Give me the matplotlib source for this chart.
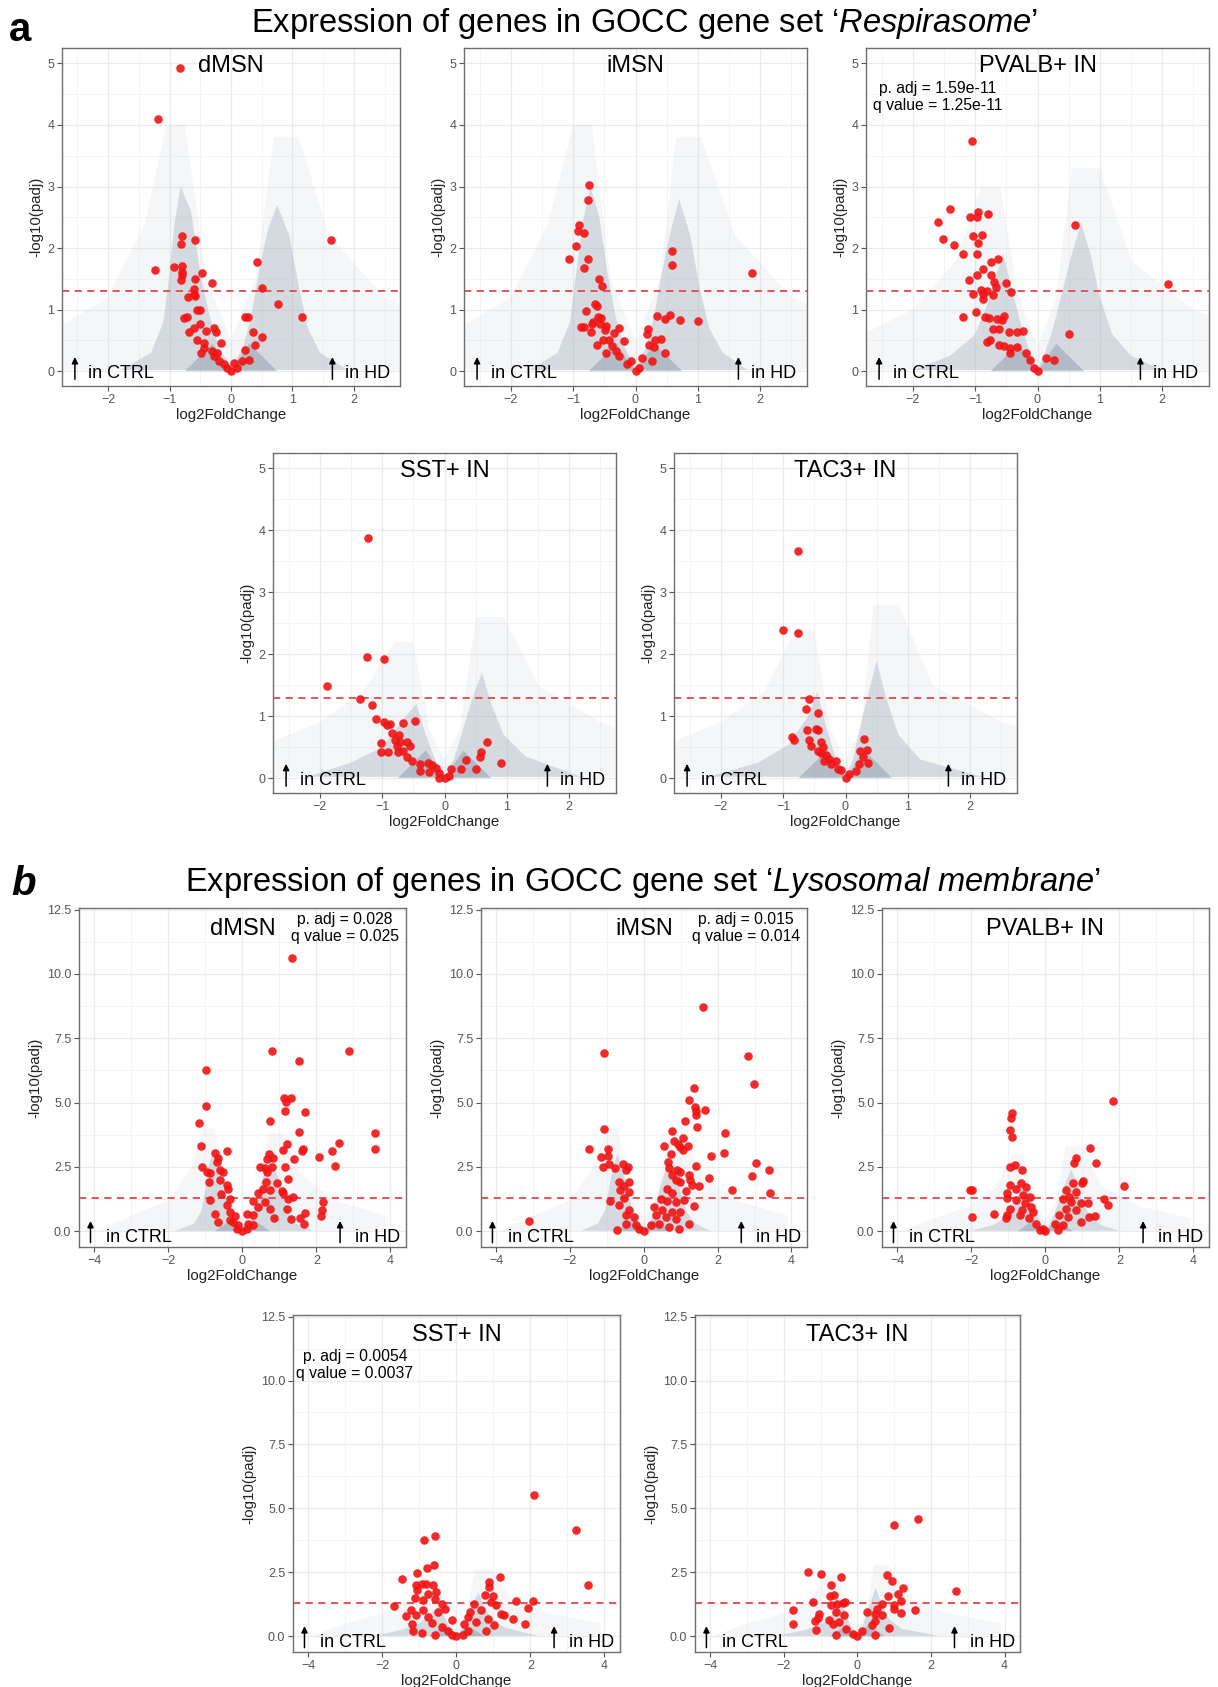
import matplotlib
matplotlib.use("Agg")
import matplotlib.pyplot as plt
from matplotlib.ticker import MultipleLocator

plt.rcParams['font.family'] = ['Liberation Sans', 'DejaVu Sans']
plt.rcParams['mathtext.fontset'] = 'custom'
plt.rcParams['mathtext.rm'] = 'Liberation Sans'
plt.rcParams['mathtext.it'] = 'Liberation Sans:italic'

# ---- red points: genes of the gene set, (log2FoldChange, -log10(padj)) ----
resp_dmsn = [(-0.83, 4.92), (-1.19, 4.09), (1.63, 2.13), (-1.23, 1.65), (-0.80, 2.20), (-0.81, 2.06),
             (-0.58, 2.13), (-0.92, 1.70), (-0.79, 1.71), (-0.80, 1.61), (-0.79, 1.56), (-0.82, 1.48),
             (-0.47, 1.59), (-0.58, 1.50), (-0.31, 1.44), (0.43, 1.78), (0.51, 1.35), (0.76, 1.09),
             (1.16, 0.88), (-0.61, 1.33), (-0.60, 1.25), (-0.70, 1.21), (-0.59, 1.22), (-0.55, 1.00),
             (-0.51, 1.00), (-0.76, 0.87), (-0.72, 0.88), (0.23, 0.88), (0.28, 0.88), (-0.68, 0.63),
             (-0.60, 0.70), (-0.50, 0.77), (-0.40, 0.65), (-0.28, 0.70), (-0.25, 0.63), (0.35, 0.64),
             (0.50, 0.55), (-0.56, 0.51), (-0.44, 0.46), (-0.16, 0.46), (-0.49, 0.29), (-0.44, 0.38),
             (-0.31, 0.33), (-0.28, 0.24), (-0.22, 0.30), (-0.20, 0.16), (0.39, 0.43), (0.23, 0.35),
             (0.18, 0.16), (0.29, 0.19), (0.05, 0.14), (0.0, 0.0), (-0.06, 0.05), (-0.12, 0.11), (0.10, 0.05)]
resp_imsn = [(-0.74, 3.02), (-0.76, 2.78), (-0.91, 2.37), (-0.92, 2.28), (-0.83, 2.24), (-0.96, 2.04),
             (-1.07, 1.83), (-0.76, 1.83), (-0.82, 1.68), (0.59, 1.96), (0.58, 1.73), (1.87, 1.60),
             (-0.58, 1.49), (-0.53, 1.39), (-0.65, 1.10), (-0.62, 1.06), (-0.80, 0.98), (0.34, 0.89),
             (0.56, 0.92), (0.47, 0.85), (0.72, 0.83), (1.00, 0.81), (-0.60, 0.88), (-0.55, 0.86),
             (-0.68, 0.80), (-0.70, 0.76), (-0.57, 0.77), (-0.88, 0.72), (-0.83, 0.72), (-0.47, 0.73),
             (-0.49, 0.67), (-0.27, 0.70), (-0.72, 0.63), (-0.35, 0.62), (0.20, 0.68), (0.19, 0.61),
             (-0.61, 0.43), (-0.52, 0.51), (-0.43, 0.50), (-0.19, 0.49), (-0.37, 0.41), (-0.31, 0.33),
             (-0.27, 0.24), (-0.48, 0.30), (0.32, 0.51), (0.41, 0.53), (0.21, 0.43), (0.29, 0.40),
             (0.48, 0.30), (0.11, 0.22), (0.27, 0.16), (-0.07, 0.16), (-0.13, 0.11), (0.0, 0.01), (0.05, 0.05)]
resp_pvalb = [(-1.05, 3.74), (-1.40, 2.64), (-1.59, 2.43), (-0.95, 2.59), (-1.09, 2.50), (-0.97, 2.50),
              (-0.79, 2.55), (0.60, 2.38), (-1.51, 2.14), (-1.03, 2.19), (-0.89, 2.21), (-0.95, 2.09),
              (-1.34, 2.05), (-1.19, 1.91), (-0.97, 1.91), (-0.63, 1.83), (-0.75, 1.77), (-0.87, 1.66),
              (-0.97, 1.56), (-0.75, 1.56), (-1.10, 1.48), (-0.69, 1.45), (-0.51, 1.44), (-0.66, 1.37),
              (-0.90, 1.32), (-0.81, 1.30), (-1.04, 1.26), (-0.87, 1.25), (-0.43, 1.28), (-0.72, 1.23),
              (-0.87, 1.17), (2.10, 1.41), (-1.19, 0.88), (-0.99, 0.96), (-0.84, 0.88), (-0.78, 0.87),
              (-0.65, 0.85), (-0.57, 0.84), (-0.53, 0.90), (-0.71, 0.69), (-0.61, 0.68), (-0.46, 0.63),
              (-0.33, 0.63), (-0.24, 0.65), (0.51, 0.60), (-0.81, 0.47), (-0.76, 0.50), (-0.61, 0.43),
              (-0.54, 0.41), (-0.44, 0.38), (-0.33, 0.40), (-0.44, 0.29), (-0.19, 0.29), (-0.12, 0.19),
              (0.14, 0.22), (0.26, 0.19), (0.0, 0.0), (-0.05, 0.05)]
resp_sst = [(-1.23, 3.88), (-1.24, 1.96), (-0.97, 1.93), (-1.88, 1.48), (-1.35, 1.27), (-1.16, 1.18),
            (-1.10, 0.96), (-0.97, 0.90), (-0.88, 0.88), (-0.92, 0.85), (-0.47, 0.93), (-0.66, 0.89),
            (-0.84, 0.73), (-0.73, 0.70), (-0.80, 0.62), (-0.71, 0.59), (-1.02, 0.56), (-0.60, 0.58),
            (-0.56, 0.52), (-0.76, 0.52), (-1.02, 0.42), (-0.90, 0.42), (-0.74, 0.42), (-0.66, 0.44),
            (-0.60, 0.34), (-0.52, 0.28), (-0.39, 0.23), (-0.26, 0.25), (-0.20, 0.21), (-0.14, 0.17),
            (-0.39, 0.12), (-0.25, 0.10), (-0.09, 0.08), (0.0, 0.0), (0.10, 0.14), (0.26, 0.15),
            (0.35, 0.30), (0.50, 0.14), (0.57, 0.34), (0.59, 0.42), (0.68, 0.59), (0.90, 0.24),
            (0.07, 0.04), (-0.09, 0.01)]
resp_tac3 = [(-0.76, 3.67), (-1.01, 2.40), (-0.76, 2.34), (-0.58, 1.27), (-0.63, 1.11), (-0.44, 1.05),
             (-0.62, 0.77), (-0.48, 0.79), (-0.44, 0.77), (-0.86, 0.66), (-0.82, 0.62), (-0.58, 0.61),
             (-0.40, 0.59), (-0.55, 0.52), (-0.36, 0.51), (-0.44, 0.44), (-0.39, 0.41), (-0.31, 0.37),
             (-0.26, 0.31), (-0.15, 0.27), (-0.34, 0.28), (-0.23, 0.23), (-0.07, 0.13), (-0.12, 0.15),
             (0.0, 0.0), (0.06, 0.06), (0.17, 0.12), (0.24, 0.44), (0.30, 0.63), (0.35, 0.45),
             (0.28, 0.34), (0.36, 0.25), (0.22, 0.23)]

lys_dmsn = [(1.33, 10.62), (0.81, 7.01), (2.87, 7.01), (1.53, 6.60), (-0.99, 6.27), (-0.99, 4.87),
            (1.12, 5.19), (1.32, 5.19), (1.18, 5.01), (1.14, 4.67), (1.70, 4.65), (-1.17, 4.21),
            (0.75, 4.28), (1.53, 3.87), (3.59, 3.83), (3.59, 3.19), (2.60, 3.44), (2.42, 3.12),
            (-1.12, 3.32), (-0.42, 3.13), (-0.74, 3.05), (1.20, 3.41), (1.09, 3.15), (1.64, 3.19),
            (1.60, 3.12), (2.06, 2.87), (2.51, 2.53), (1.40, 2.79), (-0.67, 2.83), (-0.69, 2.70),
            (0.73, 2.99), (0.66, 2.79), (0.84, 2.83), (-1.10, 2.51), (-0.96, 2.31), (-0.86, 2.25),
            (-0.59, 2.38), (-0.51, 2.31), (0.48, 2.51), (0.61, 2.44), (0.66, 2.31), (0.79, 2.51),
            (1.14, 2.51), (-0.89, 1.92), (-0.60, 1.99), (-0.42, 1.79), (0.63, 1.90), (0.93, 1.88),
            (1.24, 2.05), (-0.38, 1.64), (0.57, 1.66), (0.75, 1.60), (1.08, 1.56), (1.11, 1.47),
            (-0.58, 1.43), (0.43, 1.47), (1.38, 1.34), (-0.87, 1.23), (-0.33, 1.27), (0.30, 1.18),
            (2.17, 1.14), (0.61, 1.14), (1.24, 1.25), (-0.42, 1.01), (0.43, 0.95), (0.75, 0.88),
            (1.20, 0.88), (2.15, 0.82), (-0.33, 0.75), (-0.74, 0.69), (1.70, 0.71), (0.12, 0.69),
            (0.30, 0.62), (0.86, 0.52), (2.13, 0.58), (-0.20, 0.60), (1.32, 0.47), (1.56, 0.52),
            (-0.65, 0.36), (1.67, 0.30), (-0.24, 0.36), (-0.11, 0.23), (0.16, 0.30), (0.0, 0.0),
            (-0.14, 0.10), (0.14, 0.10), (0.30, 0.23), (-0.33, 0.43)]
lys_imsn = [(1.60, 8.70), (-1.09, 6.94), (2.83, 6.80), (2.99, 5.71), (1.36, 5.56), (1.23, 5.11),
            (1.38, 4.82), (1.41, 4.67), (1.67, 4.70), (1.42, 4.52), (1.12, 4.28), (1.45, 4.06),
            (-1.09, 3.97), (2.20, 3.80), (0.77, 3.88), (1.06, 3.61), (0.81, 3.50), (0.93, 3.41),
            (0.99, 3.28), (1.21, 3.32), (0.56, 3.32), (1.06, 3.15), (-1.49, 3.19), (-0.96, 3.19),
            (2.18, 3.06), (0.73, 2.99), (-1.16, 2.89), (-0.98, 2.92), (1.83, 2.92), (3.03, 2.66),
            (0.65, 2.70), (-1.11, 2.51), (-0.93, 2.60), (-0.57, 2.63), (-0.44, 2.51), (1.40, 2.54),
            (3.38, 2.38), (-0.77, 2.44), (-0.48, 2.38), (0.68, 2.47), (0.89, 2.38), (0.97, 2.31),
            (1.22, 2.18), (2.94, 2.15), (0.77, 2.18), (1.26, 1.99), (1.77, 2.08), (0.86, 1.99),
            (0.99, 1.90), (-0.41, 1.92), (-0.66, 1.90), (-0.53, 1.75), (1.31, 1.79), (1.49, 1.77),
            (2.38, 1.60), (3.42, 1.47), (-0.39, 1.53), (-0.64, 1.60), (0.64, 1.66), (0.77, 1.47),
            (1.13, 1.56), (-0.91, 1.17), (-0.53, 1.30), (0.46, 1.27), (0.64, 1.17), (0.86, 1.14),
            (1.08, 1.21), (1.35, 0.99), (-0.66, 1.01), (-0.39, 0.82), (0.28, 0.95), (0.50, 0.82),
            (0.77, 0.75), (0.99, 0.75), (-0.48, 0.62), (-0.26, 0.56), (0.32, 0.62), (0.59, 0.56),
            (0.86, 0.49), (1.22, 0.30), (-3.12, 0.39), (-0.73, 0.06), (-0.48, 0.30), (-0.21, 0.23),
            (0.19, 0.23), (0.41, 0.30), (0.68, 0.17), (0.95, 0.10), (0.0, 0.0), (-0.12, 0.10)]
lys_pvalb = [(1.83, 5.08), (-0.89, 4.58), (-0.93, 4.39), (-0.96, 3.93), (-0.91, 3.67), (1.21, 3.25),
             (0.83, 2.86), (0.77, 2.67), (1.37, 2.66), (-0.96, 2.51), (-0.83, 2.57), (-0.62, 2.38),
             (1.03, 1.95), (1.00, 1.86), (0.74, 1.86), (-0.66, 1.86), (-0.96, 1.79), (2.13, 1.75),
             (-0.51, 1.73), (-0.78, 1.66), (-1.98, 1.60), (-2.04, 1.62), (0.56, 1.60), (0.83, 1.53),
             (-1.04, 1.47), (-0.60, 1.40), (-0.42, 1.34), (-1.04, 1.30), (0.65, 1.34), (0.47, 1.27),
             (1.59, 1.27), (-0.78, 1.21), (-0.55, 1.08), (-0.38, 0.95), (0.70, 1.14), (0.96, 1.08),
             (1.14, 1.08), (1.68, 1.04), (-0.96, 0.88), (-0.64, 0.82), (-0.33, 0.75), (0.56, 0.88),
             (0.83, 0.82), (-1.04, 0.65), (-1.38, 0.66), (-1.98, 0.56), (-0.69, 0.62), (-0.44, 0.52),
             (0.38, 0.62), (0.61, 0.56), (1.17, 0.56), (1.35, 0.60), (-1.07, 0.52), (0.96, 0.36),
             (-0.24, 0.30), (0.25, 0.30), (-0.06, 0.10), (0.0, 0.0), (-0.15, 0.04), (0.34, 0.04),
             (0.47, 0.23)]
lys_sst = [(2.11, 5.51), (3.24, 4.17), (-0.58, 3.92), (-0.88, 3.75), (-0.60, 2.80), (-0.79, 2.68),
           (1.19, 2.34), (-1.46, 2.25), (-1.06, 2.47), (3.55, 2.02), (0.87, 2.12), (0.87, 1.93),
           (-1.08, 1.99), (-0.94, 2.06), (-0.81, 2.06), (-0.63, 1.99), (-1.06, 1.80), (-0.54, 1.73),
           (-0.76, 1.67), (-1.12, 1.50), (-0.90, 1.43), (-0.58, 1.47), (0.78, 1.60), (0.99, 1.56),
           (1.60, 1.38), (2.08, 1.37), (-1.69, 1.17), (-0.40, 1.28), (0.49, 1.28), (0.94, 1.34),
           (1.08, 1.21), (1.93, 1.12), (-1.23, 1.02), (-0.90, 1.02), (-0.49, 0.95), (-0.31, 1.08),
           (0.36, 0.95), (0.67, 1.02), (1.21, 0.89), (-1.37, 0.78), (-1.08, 0.82), (-0.76, 0.76),
           (-0.13, 0.65), (0.31, 0.76), (0.85, 0.69), (1.30, 0.82), (1.53, 0.69), (-1.19, 0.49),
           (1.86, 0.49), (-0.67, 0.52), (0.22, 0.49), (0.54, 0.56), (1.03, 0.43), (-1.17, 0.20),
           (-0.92, 0.13), (-0.58, 0.07), (-0.22, 0.23), (-0.40, 0.36), (0.31, 0.23), (0.81, 0.20),
           (0.0, 0.0), (-0.13, 0.07), (0.18, 0.07)]
lys_tac3 = [(1.64, 4.58), (1.00, 4.37), (-1.33, 2.50), (-1.00, 2.44), (-0.43, 2.31), (0.81, 2.41),
            (0.94, 2.16), (-0.71, 2.02), (1.23, 1.90), (1.10, 1.66), (2.67, 1.78), (-0.75, 1.57),
            (-0.64, 1.60), (0.83, 1.57), (-1.20, 1.33), (-0.40, 1.30), (1.19, 1.37), (-0.72, 1.21),
            (-0.54, 1.27), (-0.33, 1.34), (0.67, 1.27), (1.00, 1.21), (-1.75, 1.04), (1.57, 1.04),
            (1.18, 0.92), (0.99, 1.08), (-1.05, 0.88), (-0.58, 0.95), (-0.36, 0.82), (0.27, 0.95),
            (0.54, 1.08), (0.48, 0.86), (-1.08, 0.73), (-1.15, 0.62), (-0.76, 0.65), (-0.49, 0.56),
            (0.49, 0.62), (0.67, 0.82), (-1.75, 0.49), (-0.67, 0.49), (0.40, 0.43), (-1.12, 0.26),
            (0.85, 0.33), (-0.58, 0.04), (-0.31, 0.30), (0.13, 0.23), (0.49, 0.07), (0.0, 0.0),
            (-0.13, 0.10)]

# ---- grey background: outline of the all-genes cloud per cell type (faint / dense) ----
dmsn_faint = [(-3.9, 0.02), (-3.0, 0.6), (-2.0, 1.2), (-1.4, 2.4), (-1.05, 4.0), (-0.75, 4.0), (-0.4, 1.5),
              (0.0, 0.5), (0.4, 1.5), (0.7, 3.8), (1.1, 3.8), (1.6, 2.2), (2.5, 1.2), (3.9, 0.6), (3.9, 0.02)]
dmsn_dense = [(-1.8, 0.02), (-1.3, 0.3), (-1.1, 0.8), (-1.0, 1.6), (-0.92, 2.4), (-0.82, 3.0), (-0.65, 2.6),
              (-0.5, 1.6), (-0.35, 0.9), (-0.2, 0.4), (0.0, 0.05), (0.2, 0.4), (0.33, 0.9), (0.45, 1.6),
              (0.6, 2.3), (0.75, 2.7), (0.95, 2.2), (1.1, 1.4), (1.25, 0.7), (1.45, 0.3), (1.9, 0.02)]
imsn_faint = [(-3.9, 0.02), (-3.0, 0.6), (-2.0, 1.2), (-1.4, 2.4), (-1.0, 4.0), (-0.7, 4.0), (-0.4, 1.5),
              (0.0, 0.5), (0.4, 1.5), (0.65, 3.8), (1.05, 3.8), (1.6, 2.2), (2.5, 1.2), (3.9, 0.6), (3.9, 0.02)]
imsn_dense = [(-1.7, 0.02), (-1.25, 0.3), (-1.05, 0.8), (-0.95, 1.6), (-0.85, 2.4), (-0.72, 3.0), (-0.58, 2.5),
              (-0.45, 1.6), (-0.32, 0.9), (-0.18, 0.4), (0.0, 0.05), (0.18, 0.4), (0.3, 0.9), (0.42, 1.6),
              (0.57, 2.3), (0.7, 2.8), (0.88, 2.2), (1.02, 1.4), (1.18, 0.7), (1.4, 0.3), (1.8, 0.02)]
pvalb_faint = [(-3.9, 0.02), (-3.0, 0.5), (-2.0, 1.0), (-1.3, 1.8), (-0.9, 3.0), (-0.6, 3.0), (-0.3, 1.2),
               (0.0, 0.4), (0.3, 1.2), (0.55, 3.3), (1.0, 3.3), (1.5, 1.8), (2.5, 1.0), (3.9, 0.5), (3.9, 0.02)]
pvalb_dense = [(-2.0, 0.02), (-1.4, 0.25), (-1.0, 0.6), (-0.8, 1.1), (-0.65, 1.6), (-0.55, 1.9), (-0.4, 1.3),
               (-0.25, 0.7), (-0.12, 0.3), (0.0, 0.03), (0.12, 0.3), (0.25, 0.7), (0.4, 1.3), (0.55, 1.9),
               (0.7, 2.4), (0.85, 1.9), (1.0, 1.2), (1.2, 0.6), (1.5, 0.25), (2.0, 0.02)]
sst_faint = [(-3.9, 0.02), (-3.0, 0.5), (-2.0, 0.9), (-1.3, 1.4), (-0.8, 2.2), (-0.5, 2.2), (-0.25, 0.8),
             (0.0, 0.3), (0.25, 0.8), (0.5, 2.6), (0.95, 2.6), (1.5, 1.5), (2.5, 0.9), (3.9, 0.5), (3.9, 0.02)]
sst_dense = [(-2.2, 0.02), (-1.5, 0.25), (-1.0, 0.5), (-0.7, 0.9), (-0.45, 1.2), (-0.3, 0.7), (-0.15, 0.3),
             (0.0, 0.02), (0.15, 0.3), (0.3, 0.8), (0.45, 1.3), (0.6, 1.7), (0.75, 1.2), (0.95, 0.7),
             (1.3, 0.35), (2.2, 0.02)]
tac3_faint = [(-3.9, 0.02), (-3.0, 0.5), (-2.0, 0.9), (-1.3, 1.4), (-0.8, 2.4), (-0.5, 2.4), (-0.25, 0.8),
              (0.0, 0.3), (0.25, 0.8), (0.45, 2.8), (0.85, 2.8), (1.4, 1.5), (2.5, 0.9), (3.9, 0.5), (3.9, 0.02)]
tac3_dense = [(-2.2, 0.02), (-1.4, 0.25), (-0.9, 0.55), (-0.6, 1.0), (-0.45, 1.4), (-0.3, 0.8), (-0.15, 0.3),
              (0.0, 0.02), (0.12, 0.3), (0.25, 0.9), (0.4, 1.5), (0.5, 1.9), (0.65, 1.3), (0.85, 0.7),
              (1.2, 0.3), (2.2, 0.02)]
cloud_core = [(-0.75, 0.0), (-0.45, 0.3), (-0.3, 0.45), (-0.15, 0.22), (0.0, 0.0), (0.15, 0.22), (0.3, 0.45),
              (0.45, 0.3), (0.75, 0.0)]

cell_types = ['dMSN', 'iMSN', 'PVALB+ IN', 'SST+ IN', 'TAC3+ IN']
clouds = {'dMSN': (dmsn_faint, dmsn_dense), 'iMSN': (imsn_faint, imsn_dense),
          'PVALB+ IN': (pvalb_faint, pvalb_dense), 'SST+ IN': (sst_faint, sst_dense),
          'TAC3+ IN': (tac3_faint, tac3_dense)}
resp_points = [resp_dmsn, resp_imsn, resp_pvalb, resp_sst, resp_tac3]
lys_points = [lys_dmsn, lys_imsn, lys_pvalb, lys_sst, lys_tac3]
resp_stats = [None, None, ('p. adj = 1.59e-11', 'q value = 1.25e-11'), None, None]
lys_stats = [('p. adj = 0.028', 'q value = 0.025'), ('p. adj = 0.015', 'q value = 0.014'), None,
             ('p. adj = 0.0054', 'q value = 0.0037'), None]

W, H = 1218, 1687
fig = plt.figure(figsize=(W / 100, H / 100), dpi=100)

def box(l, t, r, b):
    return [l / W, 1 - b / H, (r - l) / W, (b - t) / H]

resp_boxes = [(62, 48, 400, 386), (464, 48, 807, 386), (866, 48, 1209, 386),
              (273, 453, 616, 793), (674, 453, 1017, 793)]
lys_boxes = [(79, 908, 406, 1247), (481, 908, 807, 1247), (882, 908, 1209, 1247),
             (293, 1315, 620, 1652), (695, 1315, 1020, 1652)]

# layout of each section: limits, grid steps, label/arrow/stat positions
resp_cfg = dict(xlim=(-2.75, 2.75), ylim=(-0.24, 5.25), xmaj=1, ymaj=1, title_y=4.86,
                arrow_y=(-0.13, 0.23), arrow_x=(-2.54, 1.65), lab_x=(-2.32, 1.85), lab_y=-0.11,
                stat_x=-1.60, stat_y=(4.52, 4.25))
lys_cfg = dict(xlim=(-4.41, 4.42), ylim=(-0.61, 12.56), xmaj=2, ymaj=2.5, title_y=11.53,
               arrow_y=(-0.44, 0.40), arrow_x=(-4.1, 2.64), lab_x=(-3.69, 3.05), lab_y=-0.42,
               stat_x=2.77, stat_y=(11.94, 11.27))

def draw_panel(rect, name, pts, stats, cfg, stat_x=None, stat_y=None):
    ax = fig.add_axes(box(*rect))
    ax.set_xlim(*cfg['xlim'])
    ax.set_ylim(*cfg['ylim'])
    ax.xaxis.set_major_locator(MultipleLocator(cfg['xmaj']))
    ax.xaxis.set_minor_locator(MultipleLocator(cfg['xmaj'] / 2))
    ax.yaxis.set_major_locator(MultipleLocator(cfg['ymaj']))
    ax.yaxis.set_minor_locator(MultipleLocator(cfg['ymaj'] / 2))
    if cfg['ymaj'] == 2.5:
        ax.yaxis.set_major_formatter(matplotlib.ticker.FormatStrFormatter('%.1f'))
    ax.grid(True, which='major', color='#EBEBEB', lw=0.9, zorder=0)
    ax.grid(True, which='minor', color='#F3F3F3', lw=0.6, zorder=0)
    ax.set_axisbelow(True)
    for s in ax.spines.values():
        s.set_color('#6E6E6E')
        s.set_linewidth(1.0)
    ax.tick_params(which='major', length=3.5, width=0.8, color='#555555', labelcolor='#555555',
                   labelsize=9, pad=2)
    ax.tick_params(which='minor', length=0)

    faint, dense = clouds[name]
    ax.fill([p[0] for p in faint], [p[1] for p in faint], color='#B4BECA', alpha=0.13, lw=0, zorder=1)
    ax.fill([p[0] for p in dense], [p[1] for p in dense], color='#A3AEBC', alpha=0.38, lw=0, zorder=1.1)
    ax.fill([p[0] for p in cloud_core], [p[1] for p in cloud_core], color='#8794A4', alpha=0.45, lw=0,
            zorder=1.2)

    ax.axhline(1.3, color='#E0494D', lw=1.3, ls=(0, (4, 3)), zorder=2)
    ax.scatter([p[0] for p in pts], [p[1] for p in pts], s=38, color='#F21313', alpha=0.9,
               linewidths=0, zorder=3)

    ax.text(0, cfg['title_y'], name, ha='center', va='baseline', fontsize=17, zorder=4)
    if stats:
        sx = cfg['stat_x'] if stat_x is None else stat_x
        sy = cfg['stat_y'] if stat_y is None else stat_y
        for line, yy in zip(stats, sy):
            ax.text(sx, yy, line, ha='center', va='baseline', fontsize=11.3, zorder=4)

    for ax_x, lx, lab in zip(cfg['arrow_x'], cfg['lab_x'], ['in CTRL', 'in HD']):
        ax.annotate('', xy=(ax_x, cfg['arrow_y'][1]), xytext=(ax_x, cfg['arrow_y'][0]),
                    arrowprops=dict(arrowstyle='-|>', color='black', lw=1.1, mutation_scale=9,
                                    shrinkA=0, shrinkB=0), zorder=4)
        ax.text(lx, cfg['lab_y'], lab, ha='left', va='baseline', fontsize=13, zorder=4)

    ax.set_xlabel('log2FoldChange', fontsize=10.8, color='#222222', labelpad=2)
    ax.set_ylabel('-log10(padj)', fontsize=10.8, color='#222222', labelpad=3)
    return ax

for i, name in enumerate(cell_types):
    draw_panel(resp_boxes[i], name, resp_points[i], resp_stats[i], resp_cfg)
for i, name in enumerate(cell_types):
    if name == 'SST+ IN':
        draw_panel(lys_boxes[i], name, lys_points[i], lys_stats[i], lys_cfg,
                   stat_x=-2.74, stat_y=(10.78, 10.10))
    else:
        draw_panel(lys_boxes[i], name, lys_points[i], lys_stats[i], lys_cfg)

# section titles and letters
fig.text(645 / W, 1 - 32 / H, "Expression of genes in GOCC gene set \u2018$\\mathit{Respirasome}$\u2019",
         ha='center', va='baseline', fontsize=23.5)
fig.text(643 / W, 1 - 891 / H,
         "Expression of genes in GOCC gene set \u2018$\\mathit{Lysosomal\\ membrane}$\u2019",
         ha='center', va='baseline', fontsize=23.5)
fig.text(9 / W, 1 - 41 / H, 'a', ha='left', va='baseline', fontsize=29, fontweight='bold')
fig.text(11 / W, 1 - 895 / H, 'b', ha='left', va='baseline', fontsize=29, fontweight='bold',
         fontstyle='italic')

fig.savefig('out.png', dpi=100, facecolor='white')
